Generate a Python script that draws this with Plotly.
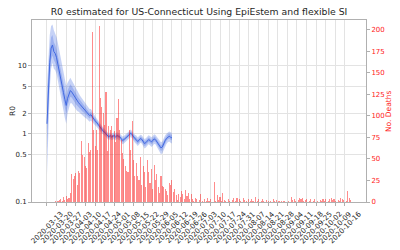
import pandas as pd
import plotly.graph_objects as go

# ---------------- data ----------------
r_start = "2020-03-13"
r_mean = [1.4, 5, 11, 18, 20, 16, 15, 13, 10, 8,
          6.5, 5, 4, 3.2, 2.6, 3.3, 3.9, 4.3, 4.1, 3.8,
          3.5, 3.2, 3.0, 2.85, 2.7, 2.55, 2.4, 2.3, 2.2, 2.1,
          1.95, 1.85, 1.9, 1.75, 1.65, 1.55, 1.48, 1.38, 1.3, 1.22,
          1.15, 1.1, 1.05, 1.0, 0.95, 0.9, 0.94, 0.9, 0.92, 0.94,
          0.9, 0.94, 0.92, 0.9, 0.85, 0.8, 0.82, 0.85, 0.88, 0.93,
          0.98, 1.02, 0.97, 0.9, 0.85, 0.82, 0.77, 0.8, 0.85, 0.83,
          0.77, 0.72, 0.74, 0.79, 0.82, 0.8, 0.76, 0.79, 0.84, 0.82,
          0.76, 0.7, 0.66, 0.62, 0.64, 0.72, 0.79, 0.85, 0.9, 0.92,
          0.89, 0.87]
r_outer_lo = [0.25, 1.2, 4.5, 9, 11, 9, 8.5, 7.5, 6, 4.8,
              3.8, 2.8, 2.2, 1.7, 1.4, 2.0, 2.5, 2.8, 2.8, 2.6,
              2.45, 2.25, 2.15, 2.1, 2.0, 1.9, 1.82, 1.77, 1.7, 1.66,
              1.56, 1.5, 1.57, 1.47, 1.4, 1.33, 1.28, 1.2, 1.14, 1.07,
              1.02, 0.98, 0.94, 0.9, 0.85, 0.8, 0.84, 0.8, 0.82, 0.84,
              0.8, 0.84, 0.82, 0.8, 0.75, 0.7, 0.72, 0.75, 0.78, 0.82,
              0.87, 0.9, 0.86, 0.79, 0.74, 0.71, 0.66, 0.69, 0.74, 0.72,
              0.66, 0.61, 0.63, 0.67, 0.7, 0.68, 0.64, 0.67, 0.71, 0.7,
              0.64, 0.58, 0.54, 0.5, 0.52, 0.59, 0.66, 0.71, 0.75, 0.77,
              0.74, 0.72]
r_outer_hi = [5.0, 14, 28, 38, 40, 33, 30, 26, 21, 16.5,
              13.5, 10.5, 8.2, 6.4, 5.0, 5.6, 6.2, 6.6, 6.1, 5.6,
              5.0, 4.5, 4.2, 3.9, 3.65, 3.4, 3.17, 3.0, 2.85, 2.68,
              2.45, 2.3, 2.3, 2.08, 1.95, 1.81, 1.71, 1.59, 1.49, 1.39,
              1.3, 1.24, 1.17, 1.12, 1.06, 1.0, 1.05, 1.0, 1.03, 1.05,
              1.01, 1.05, 1.03, 1.01, 0.96, 0.91, 0.93, 0.96, 0.99, 1.05,
              1.1, 1.15, 1.09, 1.02, 0.97, 0.94, 0.89, 0.92, 0.97, 0.95,
              0.89, 0.84, 0.86, 0.92, 0.95, 0.93, 0.89, 0.92, 0.98, 0.96,
              0.9, 0.83, 0.79, 0.75, 0.77, 0.86, 0.94, 1.0, 1.06, 1.08,
              1.05, 1.03]
r_inner_lo = [0.6, 2.5, 7, 12, 14, 12, 11, 9.5, 7.8, 6.2,
              5, 3.8, 3, 2.4, 1.95, 2.6, 3.1, 3.5, 3.4, 3.2,
              2.95, 2.7, 2.55, 2.45, 2.33, 2.2, 2.1, 2.03, 1.95, 1.88,
              1.76, 1.68, 1.74, 1.61, 1.53, 1.44, 1.38, 1.29, 1.22, 1.15,
              1.08, 1.04, 0.99, 0.95, 0.9, 0.85, 0.89, 0.85, 0.87, 0.89,
              0.85, 0.89, 0.87, 0.85, 0.8, 0.75, 0.77, 0.8, 0.83, 0.87,
              0.92, 0.96, 0.91, 0.84, 0.79, 0.76, 0.71, 0.74, 0.79, 0.77,
              0.71, 0.66, 0.68, 0.73, 0.76, 0.74, 0.7, 0.73, 0.77, 0.76,
              0.7, 0.64, 0.6, 0.56, 0.58, 0.65, 0.72, 0.78, 0.83, 0.85,
              0.82, 0.8]
r_inner_hi = [3.0, 9, 17, 26, 28, 22, 20, 17, 13.5, 11,
              8.8, 7, 5.6, 4.5, 3.5, 4.3, 4.9, 5.3, 5.0, 4.6,
              4.15, 3.8, 3.55, 3.35, 3.15, 2.95, 2.75, 2.62, 2.5, 2.36,
              2.17, 2.04, 2.08, 1.91, 1.79, 1.67, 1.59, 1.48, 1.39, 1.3,
              1.22, 1.16, 1.11, 1.05, 1.0, 0.95, 0.99, 0.95, 0.97, 0.99,
              0.95, 0.99, 0.97, 0.95, 0.9, 0.85, 0.87, 0.9, 0.93, 0.99,
              1.04, 1.08, 1.03, 0.96, 0.91, 0.88, 0.83, 0.86, 0.91, 0.89,
              0.83, 0.78, 0.8, 0.85, 0.88, 0.86, 0.82, 0.85, 0.91, 0.89,
              0.83, 0.76, 0.72, 0.68, 0.7, 0.79, 0.86, 0.92, 0.98, 1.0,
              0.97, 0.95]

d_start = "2020-03-13"
deaths = [0, 0, 0, 0, 0, 0, 1, 0, 1, 2,
          3, 1, 6, 2, 7, 4, 5, 10, 33, 27,
          30, 34, 20, 36, 34, 71, 55, 52, 42, 40,
          68, 58, 60, 197, 84, 65, 84, 60, 204, 121,
          110, 104, 89, 128, 59, 88, 84, 88, 78, 82,
          70, 98, 120, 84, 72, 57, 50, 42, 36, 35,
          84, 60, 94, 49, 30, 45, 30, 25, 52, 20,
          42, 35, 18, 49, 35, 22, 38, 15, 43, 26,
          32, 17, 10, 30, 19, 17, 15, 13, 8, 22,
          20, 26, 12, 15, 8, 2, 9, 6, 13, 9,
          3, 14, 7, 11, 4, 9, 4, 1, 5, 3,
          0, 2, 9, 1, 0, 3, 1, 5, 1, 3,
          0, 0, 23, 1, 8, 2, 6, 1, 10, 2,
          1, 0, 4, 1, 0, 2, 5, 1, 5, 5,
          3, 1, 0, 5, 2, 1, 0, 4, 1, 3,
          1, 0, 6, 1, 4, 0, 1, 3, 1, 0,
          2, 1, 0, 1, 0, 3, 1, 2, 0, 1,
          0, 1, 1, 1, 0, 0, 1, 0, 6, 2,
          4, 1, 0, 2, 5, 3, 5, 1, 2, 4,
          0, 1, 3, 0, 1, 3, 0, 1, 0, 2,
          1, 4, 1, 3, 0, 1, 4, 5, 2, 4,
          1, 0, 2, 1, 5, 4, 2, 0, 1, 13,
          5, 2]

tick_dates = ["2020-03-13", "2020-03-20", "2020-03-27", "2020-04-03", "2020-04-10",
              "2020-04-17", "2020-04-24", "2020-05-01", "2020-05-08", "2020-05-15",
              "2020-05-22", "2020-05-29", "2020-06-05", "2020-06-12", "2020-06-19",
              "2020-06-26", "2020-07-03", "2020-07-10", "2020-07-17", "2020-07-24",
              "2020-07-31", "2020-08-07", "2020-08-14", "2020-08-21", "2020-08-28",
              "2020-09-04", "2020-09-11", "2020-09-18", "2020-09-25", "2020-10-02",
              "2020-10-09", "2020-10-16"]
r_ticks = [0.1, 0.5, 1, 2, 5, 10]
r_tick_text = ["0.1", "0.5", "1", "2", "5", "10"]
death_ticks = [0, 25, 50, 75, 100, 125, 150, 175, 200]

title = "R0 estimated for US-Connecticut Using EpiEstem and flexible SI"

# ---------------- figure ----------------
r_dates = pd.date_range(r_start, periods=len(r_mean))
d_dates = pd.date_range(d_start, periods=len(deaths))

FONT = "DejaVu Sans"
BLUE = "#4169E1"
BAND = "rgba(65,105,225,0.30)"
GRID = "#e3e3e3"
SPINE = "#b0b0b0"

fig = go.Figure()
fig.add_trace(go.Scatter(x=r_dates, y=r_outer_hi, mode="lines", line=dict(width=0),
                         hoverinfo="skip", showlegend=False))
fig.add_trace(go.Scatter(x=r_dates, y=r_outer_lo, mode="lines", line=dict(width=0),
                         fill="tonexty", fillcolor=BAND, showlegend=False))
fig.add_trace(go.Scatter(x=r_dates, y=r_inner_hi, mode="lines", line=dict(width=0),
                         hoverinfo="skip", showlegend=False))
fig.add_trace(go.Scatter(x=r_dates, y=r_inner_lo, mode="lines", line=dict(width=0),
                         fill="tonexty", fillcolor=BAND, showlegend=False))
fig.add_trace(go.Scatter(x=r_dates, y=r_mean, mode="lines",
                         line=dict(color=BLUE, width=1), showlegend=False))
fig.add_trace(go.Bar(x=d_dates, y=deaths, yaxis="y2", width=0.8 * 86400000,
                     marker=dict(color="rgba(255,0,0,0.45)", line=dict(width=0)),
                     showlegend=False))

annotations = []
for t in tick_dates:
    annotations.append(dict(x=t, xref="x", y=-0.025, yref="paper", text=t,
                            textangle=-45, xanchor="center", yanchor="top",
                            showarrow=False, font=dict(family=FONT, size=7.2, color="#262626")))
annotations.append(dict(x=-0.06, xref="paper", y=0.5, yref="paper", text="R0",
                        textangle=-90, showarrow=False, xanchor="center", yanchor="middle",
                        font=dict(family=FONT, size=7.5, color="#262626")))
annotations.append(dict(x=1.066, xref="paper", y=0.5, yref="paper", text="No. Deaths",
                        textangle=-90, showarrow=False, xanchor="center", yanchor="middle",
                        font=dict(family=FONT, size=7.5, color="#ff2020")))

fig.update_layout(
    width=400, height=250,
    margin=dict(l=32, r=34, t=20, b=48),
    paper_bgcolor="white", plot_bgcolor="white",
    font=dict(family=FONT, size=7, color="#262626"),
    title=dict(text=title, x=0.4975, xanchor="center", y=0.952, yanchor="middle",
               font=dict(family=FONT, size=9.3, color="#262626")),
    bargap=0,
    showlegend=False,
    annotations=annotations,
    xaxis=dict(type="date", range=["2020-03-02 02:00", "2020-10-31 08:00"],
               tickvals=tick_dates, showticklabels=False,
               ticks="outside", ticklen=3, tickcolor=SPINE,
               showgrid=True, gridcolor=GRID, gridwidth=1,
               showline=True, linecolor=SPINE, linewidth=1, mirror=True,
               zeroline=False),
    yaxis=dict(type="log", range=[-1, 1.667], tickvals=r_ticks, ticktext=r_tick_text,
               ticks="outside", ticklen=3, tickcolor=SPINE,
               tickfont=dict(family=FONT, size=7, color="#262626"),
               showgrid=True, gridcolor=GRID, gridwidth=1,
               showline=True, linecolor=SPINE, linewidth=1, mirror=False,
               zeroline=False),
    yaxis2=dict(overlaying="y", side="right", range=[0, 211.5], tickvals=death_ticks,
                ticks="outside", ticklen=3, tickcolor=SPINE,
                tickfont=dict(family=FONT, size=7, color="#ff2020"),
                showgrid=False, showline=True, linecolor=SPINE, linewidth=1,
                zeroline=False),
)

fig.write_html("out.html")
